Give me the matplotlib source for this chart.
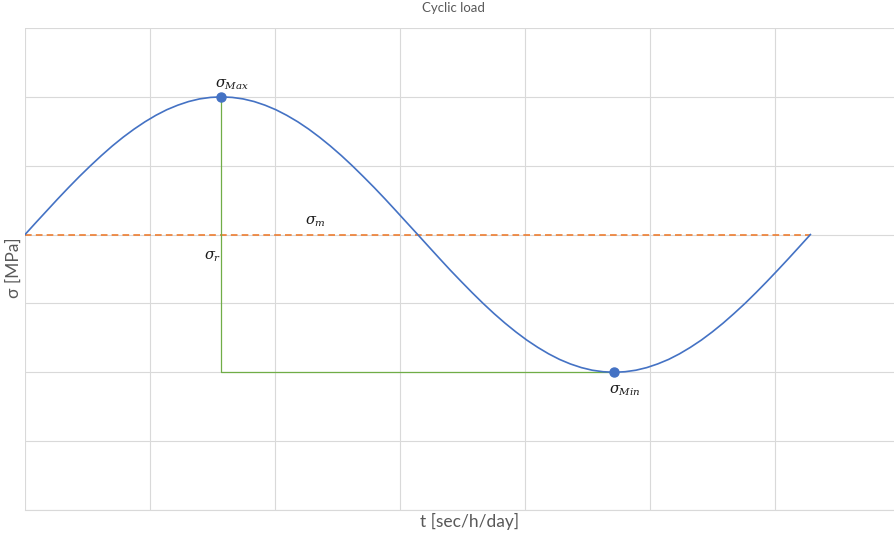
import numpy as np
import matplotlib
matplotlib.use("Agg")
import matplotlib.pyplot as plt

# one load cycle, t in rad (5 deg steps), sigma in arbitrary stress units
t = [0.000, 0.087, 0.175, 0.262, 0.349, 0.436, 0.524, 0.611, 0.698, 0.785,
     0.873, 0.960, 1.047, 1.134, 1.222, 1.309, 1.396, 1.484, 1.571, 1.658,
     1.745, 1.833, 1.920, 2.007, 2.094, 2.182, 2.269, 2.356, 2.443, 2.531,
     2.618, 2.705, 2.793, 2.880, 2.967, 3.054, 3.142, 3.229, 3.316, 3.403,
     3.491, 3.578, 3.665, 3.752, 3.840, 3.927, 4.014, 4.102, 4.189, 4.276,
     4.363, 4.451, 4.538, 4.625, 4.712, 4.800, 4.887, 4.974, 5.061, 5.149,
     5.236, 5.323, 5.411, 5.498, 5.585, 5.672, 5.760, 5.847, 5.934, 6.021,
     6.109, 6.196, 6.283]
sigma = [0.000, 0.174, 0.347, 0.518, 0.684, 0.845, 1.000, 1.147, 1.286, 1.414,
         1.532, 1.638, 1.732, 1.813, 1.879, 1.932, 1.970, 1.992, 2.000, 1.992,
         1.970, 1.932, 1.879, 1.813, 1.732, 1.638, 1.532, 1.414, 1.286, 1.147,
         1.000, 0.845, 0.684, 0.518, 0.347, 0.174, 0.000, -0.174, -0.347, -0.518,
         -0.684, -0.845, -1.000, -1.147, -1.286, -1.414, -1.532, -1.638, -1.732, -1.813,
         -1.879, -1.932, -1.970, -1.992, -2.000, -1.992, -1.970, -1.932, -1.879, -1.813,
         -1.732, -1.638, -1.532, -1.414, -1.286, -1.147, -1.000, -0.845, -0.684, -0.518,
         -0.347, -0.174, 0.000]

t_max, s_max = 1.571, 2.0
t_min, s_min = 4.712, -2.0
t_end, s_mean = 6.283, 0.0

plt.rcParams['font.family'] = ['Lato', 'DejaVu Sans']
plt.rcParams['mathtext.fontset'] = 'dejavuserif'

fig = plt.figure(figsize=(8.94, 5.35), dpi=100)
ax = fig.add_axes([25 / 894, 25 / 535, 875 / 894, 482 / 535])

ax.plot(t, sigma, color='#4472C4', lw=1.2, zorder=3)
ax.plot([0, t_end], [s_mean, s_mean], color='#ED7D31', lw=1.2,
        dashes=(4, 2.5), zorder=2)
ax.plot([t_max, t_max, t_min], [s_max, s_min, s_min], color='#70AD47',
        lw=0.9, zorder=2)
ax.plot([t_max, t_min], [s_max, s_min], 'o', color='#4472C4', ms=6.5, zorder=4)

lbl = dict(fontsize=10.5, color='#1a1a1a', ha='center', va='center')
ax.text(1.66, 2.17, r'$\sigma_{Max}$', **lbl)
ax.text(2.32, 0.18, r'$\sigma_m$', **lbl)
ax.text(1.50, -0.33, r'$\sigma_r$', **lbl)
ax.text(4.80, -2.27, r'$\sigma_{Min}$', **lbl)

ax.set_xlim(0, 7)
ax.set_ylim(-4, 3)
ax.set_xticks(np.arange(0, 8, 1))
ax.set_yticks(np.arange(-4, 4, 1))
ax.grid(True, color='#D9D9D9', lw=0.8)
ax.tick_params(length=0, labelleft=False, labelbottom=False)
for side in ['top', 'right', 'left']:
    ax.spines[side].set_visible(False)
ax.spines['bottom'].set_color('#D9D9D9')
ax.set_axisbelow(True)

fig.text(453 / 894, 1 - 8 / 535, 'Cyclic load', fontsize=9.5, color='#595959',
         ha='center', va='center')
fig.text(470 / 894, 1 - 521 / 535, 't [sec/h/day]', fontsize=12.5, color='#595959',
         ha='center', va='center')
fig.text(14 / 894, 1 - 268 / 535, 'σ [MPa]', fontsize=12.5, color='#595959',
         ha='center', va='center', rotation=90)

fig.savefig('out.png', dpi=100)
